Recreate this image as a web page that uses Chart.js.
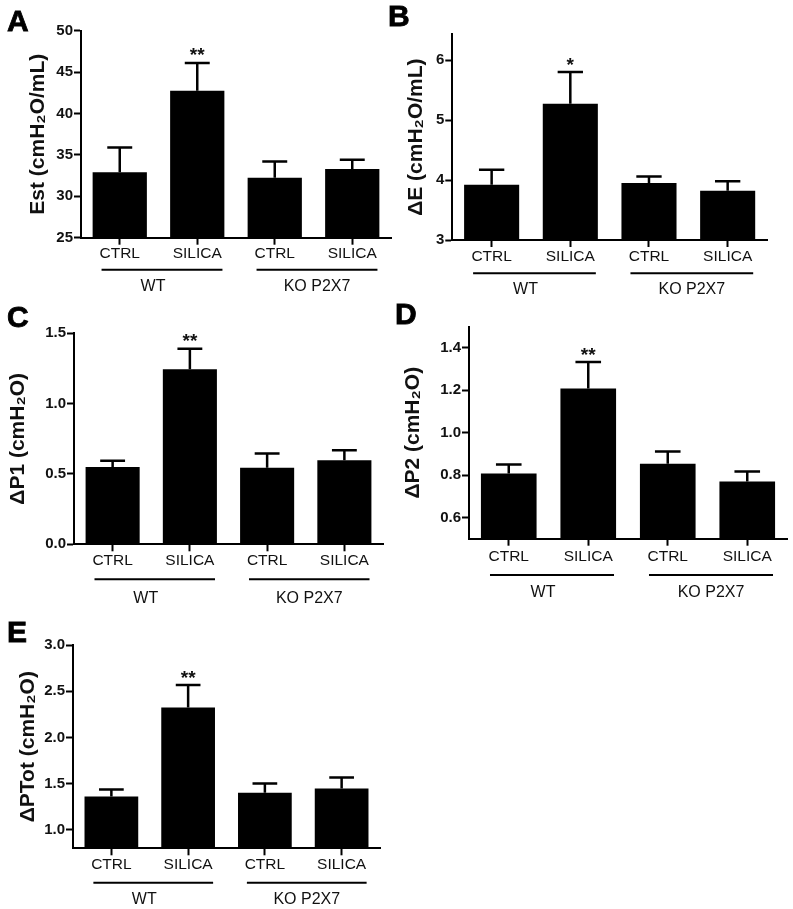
<!DOCTYPE html>
<html>
<head>
<meta charset="utf-8">
<script src="https://cdn.jsdelivr.net/npm/chart.js@4.4.0/dist/chart.umd.min.js"></script>
<style>
  body { margin: 0; background: #fff; }
  #page { position: relative; width: 793px; height: 909px; overflow: hidden; }
  canvas { position: absolute; }
  .letter { position: absolute; font: bold 30px "Liberation Sans", Arial, sans-serif; line-height: 30px; color: #000; -webkit-text-stroke: 0.8px #000; }
</style>
</head>
<body>
<div id="page">
  <canvas id="chartA" width="396" height="300" style="left:0;top:0"></canvas>
  <canvas id="chartB" width="397" height="300" style="left:396px;top:0"></canvas>
  <canvas id="chartC" width="396" height="305" style="left:0;top:300px"></canvas>
  <canvas id="chartD" width="397" height="305" style="left:396px;top:300px"></canvas>
  <canvas id="chartE" width="396" height="304" style="left:0;top:605px"></canvas>
  <div class="letter" style="left:7px;top:6px">A</div>
  <div class="letter" style="left:388px;top:1px">B</div>
  <div class="letter" style="left:7px;top:302px">C</div>
  <div class="letter" style="left:395px;top:299px">D</div>
  <div class="letter" style="left:7px;top:617px">E</div>
</div>
<script>
// Shared labels
const categories = ['CTRL', 'SILICA', 'CTRL', 'SILICA'];
const groups = ['WT', 'KO P2X7'];

// A - static elastance
const estMean = [32.9, 42.75, 32.25, 33.3];
const estSem = [3.0, 3.35, 1.95, 1.1];
const estTicks = [25, 30, 35, 40, 45, 50];
const estStars = ['', '**', '', ''];

// B - delta E
const dEMean = [3.92, 5.27, 3.95, 3.82];
const dESem = [0.25, 0.53, 0.11, 0.16];
const dETicks = [3, 4, 5, 6];
const dEStars = ['', '*', '', ''];

// C - delta P1
const dP1Mean = [0.55, 1.245, 0.545, 0.597];
const dP1Sem = [0.044, 0.145, 0.10, 0.071];
const dP1Ticks = [0.0, 0.5, 1.0, 1.5];
const dP1Stars = ['', '**', '', ''];

// D - delta P2
const dP2Mean = [0.808, 1.208, 0.853, 0.77];
const dP2Sem = [0.042, 0.125, 0.058, 0.047];
const dP2Ticks = [0.6, 0.8, 1.0, 1.2, 1.4];
const dP2Stars = ['', '**', '', ''];

// E - delta PTot
const dPTotMean = [1.36, 2.325, 1.40, 1.446];
const dPTotSem = [0.075, 0.242, 0.10, 0.119];
const dPTotTicks = [1.0, 1.5, 2.0, 2.5, 3.0];
const dPTotStars = ['', '**', '', ''];

Chart.defaults.font.family = '"Liberation Sans", Arial, sans-serif';
Chart.defaults.color = '#111';

// Panel layout (pixels inside each canvas)
const panels = [
  { id: 'chartA', title: 'Est (cmH₂O/mL)', mean: estMean, sem: estSem, ticks: estTicks, stars: estStars,
    min: 25, max: 50, digits: 0, box: { left: 81, right: 391, top: 30.7, bottom: 237.7, titleX: 38, labelPad: 0, lineY: 32, groupY: 49 } },
  { id: 'chartB', title: 'ΔE (cmH₂O/mL)', mean: dEMean, sem: dESem, ticks: dETicks, stars: dEStars,
    min: 3, max: 6.43, digits: 0, box: { left: 56.3, right: 371, top: 34.3, bottom: 240, titleX: 20, labelPad: 0, lineY: 33.3, groupY: 50 } },
  { id: 'chartC', title: 'ΔP1 (cmH₂O)', mean: dP1Mean, sem: dP1Sem, ticks: dP1Ticks, stars: dP1Stars,
    min: 0, max: 1.5, digits: 1, box: { left: 74, right: 383, top: 33.3, bottom: 244.3, titleX: 18, labelPad: 0, lineY: 35, groupY: 54 } },
  { id: 'chartD', title: 'ΔP2 (cmH₂O)', mean: dP2Mean, sem: dP2Sem, ticks: dP2Ticks, stars: dP2Stars,
    min: 0.5, max: 1.5, digits: 1, box: { left: 73, right: 391, top: 26.7, bottom: 238.7, titleX: 17, labelPad: 2, lineY: 36.3, groupY: 54 } },
  { id: 'chartE', title: 'ΔPTot (cmH₂O)', mean: dPTotMean, sem: dPTotSem, ticks: dPTotTicks, stars: dPTotStars,
    min: 0.8, max: 3.0, digits: 1, box: { left: 73, right: 380, top: 40, bottom: 243.3, titleX: 28.5, labelPad: 0, lineY: 34.4, groupY: 51.7 } }
];

const groupLabelShift = [-9, 0];

function buildChart(p) {
  const canvas = document.getElementById(p.id);
  const W = canvas.width, H = canvas.height;
  const axisGrid = { display: true, drawOnChartArea: false, offset: false, tickLength: 7, tickWidth: 2, tickColor: '#000' };
  const axisBorder = { display: true, color: '#000', width: 2 };

  // Error bars (upper whisker only) and significance stars
  const errorBars = {
    id: 'errorBars',
    afterDatasetsDraw(chart) {
      const ctx = chart.ctx;
      const y = chart.scales.y;
      const meta = chart.getDatasetMeta(0);
      meta.data.forEach((bar, i) => {
        const top = y.getPixelForValue(p.mean[i] + p.sem[i]);
        const half = bar.width * 0.23;
        ctx.save();
        ctx.strokeStyle = '#000';
        ctx.lineWidth = 2.5;
        ctx.beginPath();
        ctx.moveTo(bar.x, bar.y);
        ctx.lineTo(bar.x, top);
        ctx.moveTo(bar.x - half, top);
        ctx.lineTo(bar.x + half, top);
        ctx.stroke();
        if (p.stars[i]) {
          ctx.fillStyle = '#111';
          ctx.font = 'bold 19px "Liberation Sans", Arial, sans-serif';
          ctx.textAlign = 'center';
          ctx.textBaseline = 'alphabetic';
          ctx.fillText(p.stars[i], bar.x, top - 1.5);
        }
        ctx.restore();
      });
    }
  };

  // Group underlines and labels below the category ticks
  const groupLabels = {
    id: 'groupLabels',
    afterDraw(chart) {
      const ctx = chart.ctx;
      const x = chart.scales.x;
      const step = x.getPixelForValue(1) - x.getPixelForValue(0);
      const base = chart.chartArea.bottom;
      groups.forEach((g, gi) => {
        const mid = (x.getPixelForValue(gi * 2) + x.getPixelForValue(gi * 2 + 1)) / 2 + 3.5;
        const half = step * 0.78;
        ctx.save();
        ctx.strokeStyle = '#000';
        ctx.lineWidth = 2;
        ctx.beginPath();
        ctx.moveTo(mid - half, base + p.box.lineY);
        ctx.lineTo(mid + half, base + p.box.lineY);
        ctx.stroke();
        ctx.fillStyle = '#111';
        ctx.font = '16px "Liberation Sans", Arial, sans-serif';
        ctx.textAlign = 'center';
        ctx.textBaseline = 'middle';
        ctx.fillText(g, mid + groupLabelShift[gi], base + p.box.groupY);
        ctx.restore();
      });
    }
  };

  return new Chart(canvas, {
    type: 'bar',
    data: {
      labels: categories,
      datasets: [{
        data: p.mean,
        backgroundColor: '#000',
        borderWidth: 0,
        barPercentage: 0.7,
        categoryPercentage: 1
      }]
    },
    options: {
      responsive: false,
      animation: false,
      layout: { padding: { left: 0, top: p.box.top, right: W - p.box.right, bottom: 0 } },
      plugins: { legend: { display: false }, tooltip: { enabled: false } },
      scales: {
        x: {
          grid: axisGrid,
          border: axisBorder,
          ticks: { color: '#111', font: { size: 15.5 }, padding: p.box.labelPad, maxRotation: 0, autoSkip: false },
          afterFit: s => { s.height = H - p.box.bottom; }
        },
        y: {
          min: p.min,
          max: p.max,
          bounds: 'data',
          grid: axisGrid,
          border: axisBorder,
          ticks: { color: '#111', font: { size: 15, weight: 'bold' }, padding: 1, callback: v => Number(v).toFixed(p.digits) },
          title: { display: true, text: p.title, color: '#111', font: { size: 21, weight: 'bold' }, padding: { top: p.box.titleX - 12.6, bottom: 0 } },
          afterBuildTicks: s => { s.ticks = p.ticks.map(v => ({ value: v })); },
          afterFit: s => { s.width = p.box.left; }
        }
      }
    },
    plugins: [errorBars, groupLabels]
  });
}

panels.forEach(buildChart);
</script>
</body>
</html>
